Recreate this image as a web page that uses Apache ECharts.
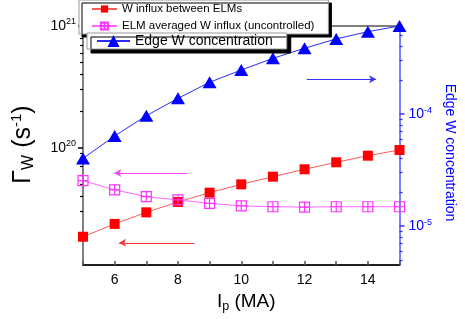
<!DOCTYPE html>
<html><head><meta charset="utf-8">
<script src="https://cdn.jsdelivr.net/npm/echarts@6/dist/echarts.min.js"></script>
<style>html,body{margin:0;padding:0;background:#fff}#c{width:465px;height:319px}</style>
</head><body><div id="c"></div>
<script>
// ---- data ----
const ip = [5, 6, 7, 8, 9, 10, 11, 12, 13, 14, 15];
const influxBetween = [1.86e19, 2.37e19, 2.95e19, 3.59e19, 4.28e19, 5.01e19, 5.79e19, 6.66e19, 7.60e19, 8.61e19, 9.59e19];
const influxAveraged = [5.37e19, 4.51e19, 3.97e19, 3.73e19, 3.50e19, 3.33e19, 3.28e19, 3.26e19, 3.28e19, 3.28e19, 3.28e19];
const edgeConc = [4.02e-5, 6.37e-5, 9.66e-5, 1.38e-4, 1.92e-4, 2.47e-4, 3.14e-4, 3.86e-4, 4.68e-4, 5.43e-4, 6.10e-4];
const xTickLabels = [6, 8, 10, 12, 14];
const leftMajor = [1e20, 1e21];
const leftMinor = [2e19, 3e19, 4e19, 5e19, 6e19, 7e19, 8e19, 9e19, 2e20, 3e20, 4e20, 5e20, 6e20, 7e20, 8e20, 9e20];
const rightMajor = [1e-5, 1e-4];
const rightMinor = [5e-6, 6e-6, 7e-6, 8e-6, 9e-6, 2e-5, 3e-5, 4e-5, 5e-5, 6e-5, 7e-5, 8e-5, 9e-5, 2e-4, 3e-4, 4e-4, 5e-4];
const leftRange = [1.09e19, 1.0001e21];
const rightRange = [4.5e-6, 6.1e-4];
const arrowPink = [[8.30, 6.21e19], [5.99, 6.21e19]];
const arrowRed = [[8.52, 1.66e19], [6.14, 1.66e19]];
const arrowBlue = [[12.07, 2.04e-4], [14.26, 2.04e-4]];

const names = ['W influx between ELMs', 'ELM averaged W influx (uncontrolled)', 'Edge W concentration'];
const FONT = 'Liberation Sans, Arial, sans-serif';

const pairs = (ys) => ip.map((x, i) => [x, ys[i]]);
const expLabel = (v) => '{b|10}{s|' + Math.round(Math.log10(v)) + '}';
const arrowLine = (pts, color) => ({
  silent: true, symbol: ['none', 'arrow'], symbolSize: [6, 7],
  label: { show: false }, emphasis: { disabled: true },
  lineStyle: { color: color, width: 1, type: 'solid' },
  data: [[{ coord: pts[0] }, { coord: pts[1] }]]
});

const chart = echarts.init(document.getElementById('c'), null, { renderer: 'canvas' });
chart.setOption({
  animation: false,
  backgroundColor: '#fff',
  textStyle: { fontFamily: FONT },
  grid: { left: 83, right: 58, top: 26, bottom: 54, show: true, borderColor: '#000', borderWidth: 1, backgroundColor: 'transparent' },
  legend: [{
    data: [names[0], names[1]], orient: 'vertical', left: 79, top: 0,
    itemWidth: 25, itemHeight: 9, itemGap: 5,
    textStyle: { fontSize: 11.5, fontFamily: FONT, color: '#000' },
    backgroundColor: '#fff', borderColor: '#999', borderWidth: 1, padding: [3, 14, 2, 12],
    shadowColor: '#000', shadowOffsetX: 3, shadowOffsetY: 3, shadowBlur: 0
  }, {
    data: [names[2]], orient: 'vertical', left: 87, top: 33,
    itemWidth: 33, itemHeight: 15, itemGap: 0,
    textStyle: { fontSize: 14, fontFamily: FONT, color: '#000' },
    backgroundColor: '#fff', borderColor: '#999', borderWidth: 1, padding: [1, 14, 1, 9],
    shadowColor: '#000', shadowOffsetX: 4, shadowOffsetY: 4, shadowBlur: 0
  }],
  xAxis: {
    type: 'value', min: 5, max: 15, interval: 1,
    name: '{i|I}{sub|p}{i| (MA)}', nameLocation: 'middle', nameGap: 26,
    nameTextStyle: { padding: [0, 0, 0, 10], rich: { i: { fontSize: 19, fontFamily: FONT, color: '#000' }, sub: { fontSize: 12.5, fontFamily: FONT, color: '#000', verticalAlign: 'bottom', padding: [9, 0, 0, 0] } } },
    axisLine: { lineStyle: { color: '#000', width: 1.5 } },
    axisTick: { inside: true, length: 4, lineStyle: { color: '#555', width: 1.5 } },
    axisLabel: { fontSize: 14, color: '#000', margin: 8, fontFamily: FONT, customValues: xTickLabels },
    splitLine: { show: false }
  },
  yAxis: [{
    type: 'log', min: leftRange[0], max: leftRange[1], position: 'left',
    name: '{g|Γ}{sub|W}{g| (s}{sup|-1}{g|)}', nameLocation: 'middle', nameGap: 46,
    nameTextStyle: { padding: [0, 0, 0, 2], rich: {
      g: { fontSize: 25, fontFamily: FONT, color: '#000' },
      sub: { fontSize: 16, fontFamily: FONT, color: '#000', verticalAlign: 'bottom', padding: [12, 0, 0, 0] },
      sup: { fontSize: 15, fontFamily: FONT, color: '#000', verticalAlign: 'top', padding: [0, 0, 12, 0] }
    } },
    axisLine: { show: true, lineStyle: { color: '#808080', width: 2 } },
    axisTick: { inside: false, length: 5, customValues: leftMajor, lineStyle: { color: '#000', width: 1.5 } },
    axisLabel: { customValues: leftMajor, formatter: expLabel, margin: 7, fontSize: 14, color: '#000', rich: {
      b: { fontSize: 14, fontFamily: FONT, color: '#000' },
      s: { fontSize: 9, fontFamily: FONT, color: '#000', verticalAlign: 'top', padding: [0, 0, 8, 0] }
    } },
    splitLine: { show: false }
  }, {
    type: 'log', min: rightRange[0], max: rightRange[1], position: 'right',
    name: 'Edge W concentration', nameLocation: 'middle', nameGap: 41, nameRotate: -90,
    nameTextStyle: { fontSize: 14, fontFamily: FONT, color: '#0000ff', padding: [0, 0, 0, 14] },
    axisLine: { show: true, lineStyle: { color: '#8080ff', width: 2 } },
    axisTick: { inside: false, length: 5, customValues: rightMajor, lineStyle: { color: '#3030ff', width: 1.5 } },
    axisLabel: { customValues: rightMajor, formatter: expLabel, margin: 9, fontSize: 14, color: '#0000ff', rich: {
      b: { fontSize: 14, fontFamily: FONT, color: '#0000ff' },
      s: { fontSize: 9, fontFamily: FONT, color: '#0000ff', verticalAlign: 'top', padding: [0, 0, 8, 0] }
    } },
    splitLine: { show: false }
  }, {
    type: 'log', min: leftRange[0], max: leftRange[1], position: 'left',
    axisLine: { show: false },
    axisTick: { inside: false, length: 3, customValues: leftMinor, lineStyle: { color: '#000', width: 1.2 } },
    axisLabel: { show: false }, splitLine: { show: false }
  }, {
    type: 'log', min: rightRange[0], max: rightRange[1], position: 'right',
    axisLine: { show: false },
    axisTick: { inside: false, length: 3, customValues: rightMinor, lineStyle: { color: '#3030ff', width: 1.2 } },
    axisLabel: { show: false }, splitLine: { show: false }
  }],
  series: [{
    name: names[0], type: 'line', yAxisIndex: 0, data: pairs(influxBetween),
    symbol: 'rect', symbolSize: 10,
    itemStyle: { color: '#ff0000' }, lineStyle: { color: '#ff5a5a', width: 1 },
    markLine: arrowLine(arrowRed, '#ff3333')
  }, {
    name: names[1], type: 'line', yAxisIndex: 0, data: pairs(influxAveraged),
    symbol: 'path://M0,0L10,0L10,10L0,10Z M5,0L5,10 M0,5L10,5', symbolSize: 10,
    itemStyle: { color: 'rgba(255,255,255,0)', borderColor: '#ff33ff', borderWidth: 1.2 },
    lineStyle: { color: '#ff66ff', width: 1 },
    markLine: arrowLine(arrowPink, '#ff44ff')
  }, {
    name: names[2], type: 'line', yAxisIndex: 1, data: pairs(edgeConc),
    symbol: 'triangle', symbolSize: [14, 12],
    itemStyle: { color: '#0000ff' }, lineStyle: { color: '#2b2bff', width: 1 },
    markLine: arrowLine(arrowBlue, '#3333ff')
  }]
});
</script></body></html>
